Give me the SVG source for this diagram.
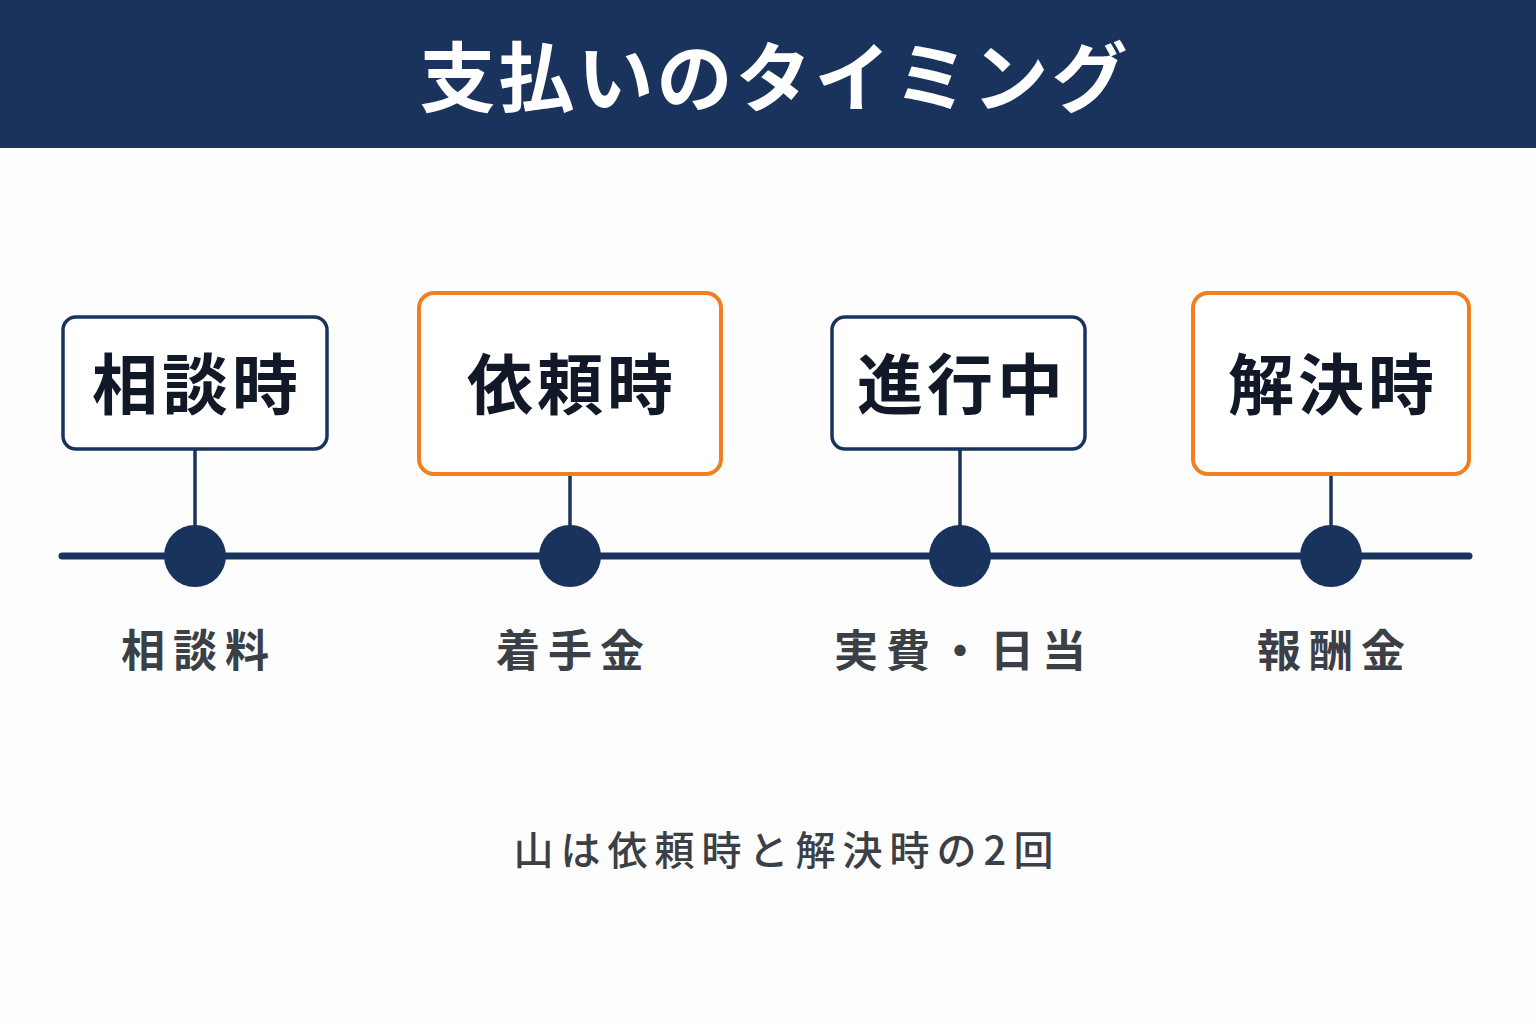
<svg xmlns="http://www.w3.org/2000/svg" width="1536" height="1024" viewBox="0 0 1536 1024">
<style>
.box{fill:#ffffff;stroke-width:3.5}
.navy{stroke:#1a335c}
.orange{stroke:#f07f1e;stroke-width:4}
.bt{font-family:"Noto Sans CJK JP","Noto Sans",sans-serif;font-weight:700;font-size:66px;fill:#111827;text-anchor:middle;dominant-baseline:central;letter-spacing:4px}
.lb{font-family:"Noto Sans CJK JP","Noto Sans",sans-serif;font-weight:700;font-size:44px;fill:#3b3f46;text-anchor:middle;dominant-baseline:central;letter-spacing:8px}
.stem{stroke:#1a335c;stroke-width:3.5}
.dot{fill:#1a335c}
</style>
<rect width="1536" height="1024" fill="#fdfdfd"/>
<g id="header">
<rect x="0" y="0" width="1536" height="148" fill="#1a335c"/>
<text x="775" y="73" font-family="'Noto Sans CJK JP','Noto Sans',sans-serif" font-weight="700" font-size="76" fill="#ffffff" text-anchor="middle" dominant-baseline="central" letter-spacing="3">支払いのタイミング</text>
</g>
<g id="connectors">
<line x1="62" y1="556" x2="1469" y2="556" stroke="#1a335c" stroke-width="7" stroke-linecap="round"/>
<line class="stem" x1="195" y1="449" x2="195" y2="530"/>
<line class="stem" x1="570" y1="474" x2="570" y2="530"/>
<line class="stem" x1="960" y1="449" x2="960" y2="530"/>
<line class="stem" x1="1331" y1="474" x2="1331" y2="530"/>
</g>
<g id="node-soudan">
<rect class="box navy" x="63" y="317" width="264" height="132" rx="13"/>
<text class="bt" x="197" y="380">相談時</text>
<circle class="dot" cx="195" cy="556" r="31"/>
<text class="lb" x="199" y="648">相談料</text>
</g>
<g id="node-irai">
<rect class="box orange" x="419" y="293" width="302" height="181" rx="15"/>
<text class="bt" x="572" y="380">依頼時</text>
<circle class="dot" cx="570" cy="556" r="31"/>
<text class="lb" x="574" y="648">着手金</text>
</g>
<g id="node-shinkou">
<rect class="box navy" x="832" y="317" width="253" height="132" rx="13"/>
<text class="bt" x="962" y="380">進行中</text>
<circle class="dot" cx="960" cy="556" r="31"/>
<text class="lb" x="964" y="648">実費・日当</text>
</g>
<g id="node-kaiketsu">
<rect class="box orange" x="1193" y="293" width="276" height="181" rx="15"/>
<text class="bt" x="1333" y="380">解決時</text>
<circle class="dot" cx="1331" cy="556" r="31"/>
<text class="lb" x="1335" y="648">報酬金</text>
</g>
<g id="note">
<text x="787" y="848" font-family="'Noto Sans CJK JP','Noto Sans',sans-serif" font-weight="500" font-size="40" fill="#3b3f46" text-anchor="middle" dominant-baseline="central" letter-spacing="7">山は依頼時と解決時の2回</text>
</g>
</svg>
